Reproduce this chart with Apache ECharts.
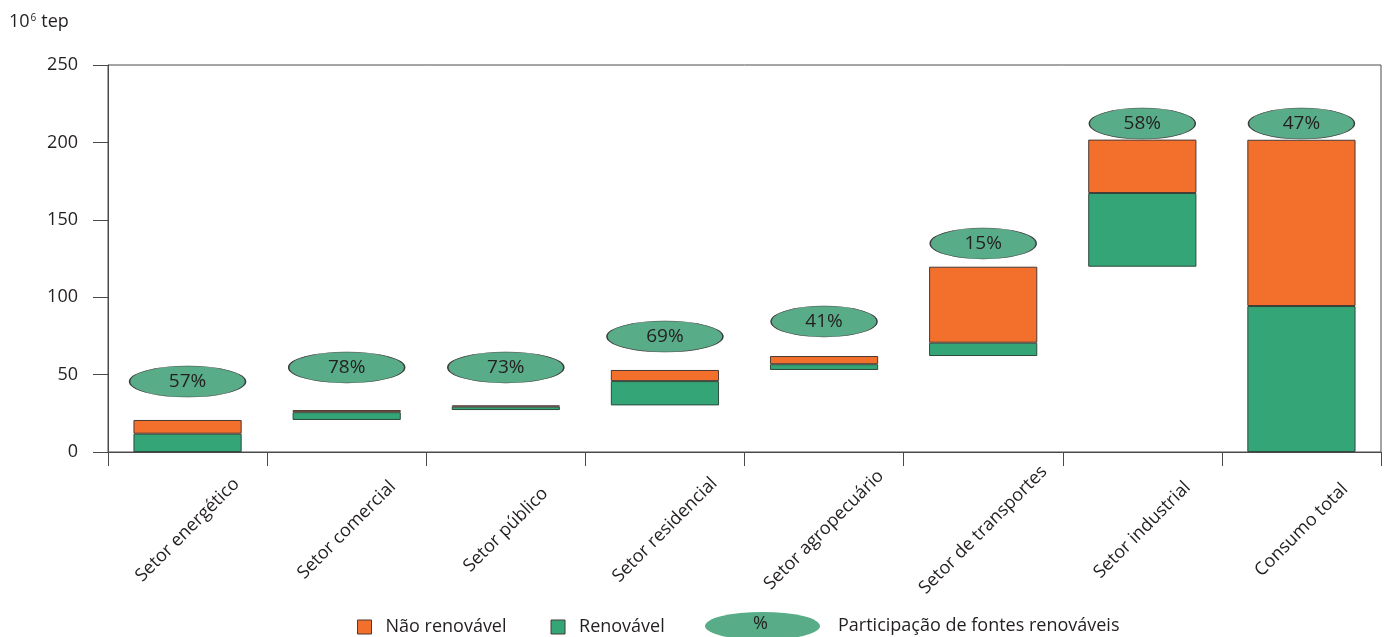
<!DOCTYPE html>
<html>
<head>
<meta charset="utf-8">
<script src="https://cdn.jsdelivr.net/npm/echarts@6/dist/echarts.min.js"></script>
<style>
	html, body { margin: 0; padding: 0; background: #fff; }
	#main { width: 1384px; height: 637px; }
</style>
</head>
<body>
<div id="main"></div>
<script>
var setores = [ 'Setor energético', 'Setor comercial', 'Setor público',
		'Setor residencial', 'Setor agropecuário', 'Setor de transportes',
		'Setor industrial', 'Consumo total' ];
// 10^6 tep
var base = [ 0, 20.7, 27.1, 30.1, 53.0, 62.0, 119.7, 0 ];
var renovavel = [ 11.8, 5.0, 2.2, 15.7, 3.7, 8.6, 47.6, 94.3 ];
var naoRenovavel = [ 8.9, 1.4, 0.8, 7.2, 5.3, 49.1, 34.5, 107.4 ];
// participação de fontes renováveis (%)
var participacao = [ 57, 78, 73, 69, 41, 15, 58, 47 ];
// altura (10^6 tep) onde fica cada elipse
var elipseY = [ 45.5, 54.6, 54.6, 74.6, 84.3, 134.7, 212.2, 212.2 ];
var yTicks = [ 0, 50, 100, 150, 200, 250 ];

var FONT = 'Open Sans';
var TXT = '#231f20';
var AXIS = '#4a4a4a';

var chart = echarts.init(document.getElementById('main'));

var option = {
	animation : false,
	textStyle : {
		fontFamily : FONT,
		color : TXT
	},
	title : {
		text : '10{sup|6}tep',
		left : 9,
		top : 13,
		padding : 0,
		textStyle : {
			fontFamily : FONT,
			fontSize : 18,
			fontWeight : 'normal',
			color : TXT,
			rich : {
				sup : {
					fontFamily : FONT,
					fontSize : 10,
					color : TXT,
					verticalAlign : 'top',
					padding : [ 0, 5, 8, 1 ]
				}
			}
		}
	},
	grid : {
		left : 108,
		right : 3,
		top : 65,
		bottom : 185,
		show : true,
		borderColor : AXIS,
		borderWidth : 1
	},
	legend : [ {
		data : [ 'Não renovável', 'Renovável' ],
		left : 357,
		top : 618,
		padding : 0,
		itemWidth : 14,
		itemHeight : 14,
		itemGap : 44,
		icon : 'rect',
		itemStyle : {
			borderColor : '#4a3a33',
			borderWidth : 1
		},
		textStyle : {
			fontFamily : FONT,
			fontSize : 18,
			color : TXT,
			padding : [ 0, 0, 0, 9 ]
		}
	}, {
		data : [ 'Participação de fontes renováveis' ],
		left : 705,
		top : 612,
		padding : 0,
		itemWidth : 115,
		itemHeight : 28,
		symbolKeepAspect : false,
		icon : 'path://M0 50A50 50 0 1 1 100 50A50 50 0 1 1 0 50Z',
		itemStyle : {
			borderWidth : 0
		},
		textStyle : {
			fontFamily : FONT,
			fontSize : 18,
			color : TXT,
			padding : [ 0, 0, 0, 13 ]
		}
	} ],
	graphic : [ {
		type : 'text',
		left : 753,
		top : 615,
		z : 100,
		style : {
			text : '%',
			font : '18px "Open Sans"',
			fill : TXT
		}
	} ],
	xAxis : {
		type : 'category',
		data : setores,
		axisLine : {
			lineStyle : {
				color : AXIS
			}
		},
		axisTick : {
			show : true,
			length : 14,
			lineStyle : {
				color : AXIS
			}
		},
		axisLabel : {
			interval : 0,
			rotate : 45,
			align : 'center',
			verticalAlign : 'middle',
			margin : 78,
			fontFamily : FONT,
			fontSize : 18,
			color : TXT
		}
	},
	yAxis : {
		type : 'value',
		min : 0,
		max : 250,
		interval : 50,
		axisLine : {
			show : true,
			lineStyle : {
				color : AXIS
			}
		},
		axisTick : {
			show : true,
			length : 15,
			lineStyle : {
				color : AXIS
			}
		},
		splitLine : {
			show : false
		},
		axisLabel : {
			margin : 30,
			fontFamily : FONT,
			fontSize : 18,
			color : TXT,
			formatter : function(v) {
				return yTicks.indexOf(v) >= 0 ? String(v) : '';
			}
		}
	},
	series : [ {
		name : 'base',
		type : 'bar',
		stack : 'total',
		barWidth : '68%',
		silent : true,
		itemStyle : {
			color : 'transparent',
			borderWidth : 0
		},
		data : base
	}, {
		name : 'Renovável',
		type : 'bar',
		stack : 'total',
		barWidth : '68%',
		itemStyle : {
			color : '#34a577',
			borderColor : '#2f4a3e',
			borderWidth : 1
		},
		data : renovavel
	}, {
		name : 'Não renovável',
		type : 'bar',
		stack : 'total',
		barWidth : '68%',
		itemStyle : {
			color : '#f26f2c',
			borderColor : '#4a3a33',
			borderWidth : 1
		},
		data : naoRenovavel
	}, {
		name : 'Participação de fontes renováveis',
		type : 'scatter',
		symbol : 'circle',
		symbolSize : function(val, params) {
			return params.dataIndex < 4 ? [ 116, 31 ] : [ 106, 31 ];
		},
		z : 10,
		itemStyle : {
			color : '#58ac87',
			borderColor : '#3b3b3b',
			borderWidth : 0.8,
			opacity : 1
		},
		label : {
			show : true,
			position : 'inside',
			fontFamily : FONT,
			fontSize : 19,
			color : TXT,
			formatter : function(p) {
				return participacao[p.dataIndex] + '%';
			}
		},
		data : elipseY
	} ]
};

chart.setOption(option);

window.onresize = function() {
	chart.resize();
};
</script>
</body>
</html>
